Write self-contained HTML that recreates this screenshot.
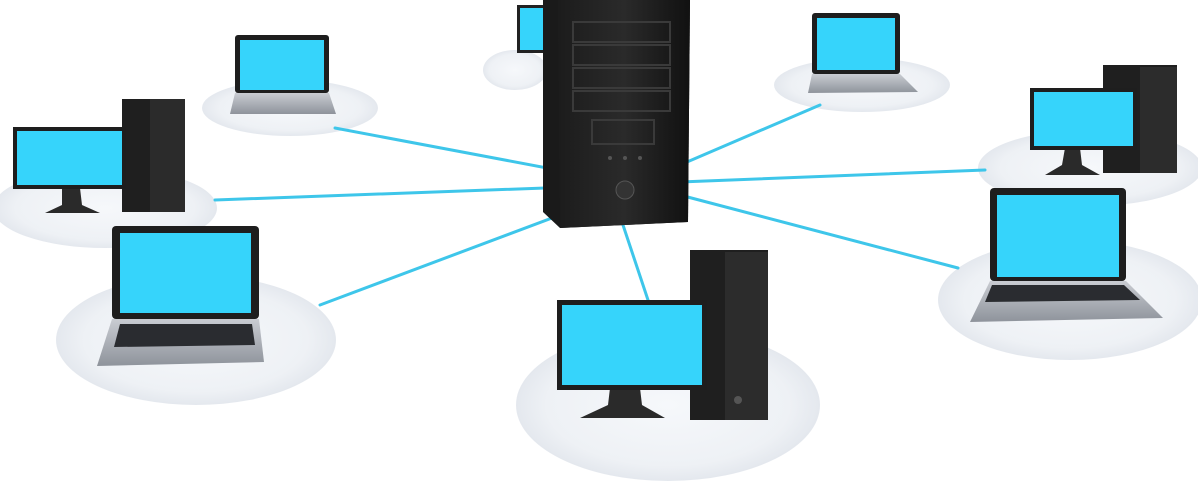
<!DOCTYPE html>
<html><head><meta charset="utf-8"><style>
html,body{margin:0;padding:0;background:#fff;}
svg{display:block;}
</style></head><body>
<svg width="1198" height="490" viewBox="0 0 1198 490" xmlns="http://www.w3.org/2000/svg">
<defs>
<radialGradient id="disc" cx="50%" cy="50%" r="50%">
<stop offset="0" stop-color="#f6f8fb"/><stop offset="0.8" stop-color="#eef1f5"/><stop offset="1" stop-color="#e4e8ee"/>
</radialGradient>
<linearGradient id="tower" x1="0" x2="1"><stop offset="0" stop-color="#1c1c1c"/><stop offset="0.5" stop-color="#2a2a2a"/><stop offset="1" stop-color="#111"/></linearGradient>
<linearGradient id="base" x1="0" y1="0" x2="0" y2="1"><stop offset="0" stop-color="#c9ccd2"/><stop offset="1" stop-color="#8e939b"/></linearGradient>
</defs>
<rect width="1198" height="490" fill="#fff"/>
<!-- discs -->
<ellipse cx="515" cy="70" rx="32" ry="20" fill="url(#disc)"/>
<ellipse cx="290" cy="108" rx="88" ry="28" fill="url(#disc)"/>
<ellipse cx="105" cy="208" rx="112" ry="40" fill="url(#disc)"/>
<ellipse cx="196" cy="340" rx="140" ry="65" fill="url(#disc)"/>
<ellipse cx="668" cy="405" rx="152" ry="76" fill="url(#disc)"/>
<ellipse cx="1070" cy="300" rx="132" ry="60" fill="url(#disc)"/>
<ellipse cx="1090" cy="168" rx="112" ry="38" fill="url(#disc)"/>
<ellipse cx="862" cy="85" rx="88" ry="27" fill="url(#disc)"/>
<!-- lines -->
<g stroke="#3ec6ea" stroke-width="3" stroke-linecap="round">
<line x1="600" y1="178" x2="335" y2="128"/>
<line x1="600" y1="186" x2="215" y2="200"/>
<line x1="600" y1="200" x2="320" y2="305"/>
<line x1="622" y1="222" x2="648" y2="300"/>
<line x1="680" y1="195" x2="958" y2="268"/>
<line x1="680" y1="182" x2="985" y2="170"/>
<line x1="680" y1="165" x2="820" y2="105"/>
</g>
<!-- top center small monitor -->
<rect x="517" y="5" width="28" height="48" fill="#222"/><rect x="520" y="8" width="25" height="42" fill="#36d4fb"/>
<!-- server -->
<polygon points="543,0 690,0 688,222 560,228 543,212" fill="#1a1a1a"/>
<polygon points="558,0 690,0 688,222 560,228" fill="url(#tower)"/>
<g fill="none" stroke="#3a3a3a" stroke-width="2">
<rect x="573" y="22" width="97" height="20"/><rect x="573" y="45" width="97" height="20"/><rect x="573" y="68" width="97" height="20"/><rect x="573" y="91" width="97" height="20"/>
<rect x="592" y="120" width="62" height="24"/>
</g>
<circle cx="625" cy="190" r="9" fill="#333" stroke="#555"/>
<circle cx="610" cy="158" r="2" fill="#555"/><circle cx="625" cy="158" r="2" fill="#555"/><circle cx="640" cy="158" r="2" fill="#555"/>
<!-- top-left laptop -->
<rect x="235" y="35" width="94" height="58" rx="3" fill="#1e1e1e"/><rect x="240" y="40" width="84" height="50" fill="#36d4fb"/>
<polygon points="235,93 329,93 336,114 230,114" fill="url(#base)"/>
<!-- left desktop -->
<rect x="122" y="99" width="63" height="113" fill="#1f1f1f"/><rect x="150" y="99" width="35" height="113" fill="#2b2b2b"/>
<polygon points="62,188 80,188 82,205 100,213 45,213 62,205" fill="#2a2a2a"/>
<rect x="13" y="127" width="113" height="62" fill="#1e1e1e"/><rect x="17" y="131" width="105" height="54" fill="#36d4fb"/>
<!-- left laptop -->
<rect x="112" y="226" width="147" height="93" rx="4" fill="#1e1e1e"/><rect x="120" y="233" width="131" height="80" fill="#36d4fb"/>
<polygon points="112,319 259,319 264,362 97,366" fill="url(#base)"/>
<polygon points="120,324 252,324 255,345 114,347" fill="#2a2c30"/>
<!-- bottom desktop -->
<rect x="690" y="250" width="78" height="170" fill="#1f1f1f"/><rect x="725" y="252" width="43" height="168" fill="#2c2c2c"/>
<circle cx="738" cy="400" r="4" fill="#555"/>
<polygon points="610,388 640,388 642,405 665,418 580,418 608,405" fill="#2a2a2a"/>
<rect x="557" y="300" width="150" height="90" fill="#1e1e1e"/><rect x="562" y="305" width="140" height="80" fill="#36d4fb"/>
<!-- right laptop -->
<rect x="990" y="188" width="136" height="93" rx="4" fill="#1e1e1e"/><rect x="997" y="195" width="122" height="82" fill="#36d4fb"/>
<polygon points="990,281 1126,281 1163,318 970,322" fill="url(#base)"/>
<polygon points="992,285 1124,285 1140,300 985,302" fill="#2a2c30"/>
<!-- right desktop -->
<rect x="1103" y="65" width="74" height="108" fill="#1f1f1f"/><rect x="1140" y="67" width="37" height="106" fill="#2c2c2c"/>
<polygon points="1065,148 1080,148 1082,165 1100,175 1045,175 1062,165" fill="#2a2a2a"/>
<rect x="1030" y="88" width="107" height="62" fill="#1e1e1e"/><rect x="1034" y="92" width="99" height="54" fill="#36d4fb"/>
<!-- top-right laptop -->
<rect x="812" y="13" width="88" height="61" rx="3" fill="#1e1e1e"/><rect x="817" y="18" width="78" height="52" fill="#36d4fb"/>
<polygon points="812,74 900,74 918,92 808,93" fill="url(#base)"/>
</svg>
</body></html>
